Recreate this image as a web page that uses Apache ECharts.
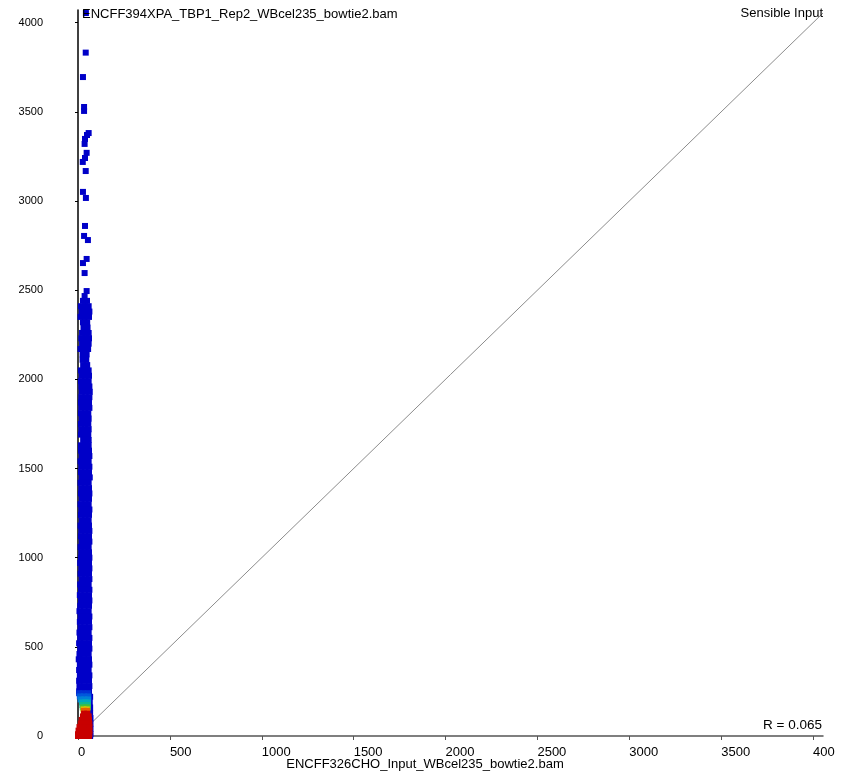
<!DOCTYPE html>
<html><head><meta charset="utf-8">
<script src="https://cdn.jsdelivr.net/npm/echarts@6/dist/echarts.min.js"></script>
<style>html,body{margin:0;padding:0;background:#fff;}#c{position:absolute;left:0;top:0;width:835px;height:773px;}</style>
</head><body><div id="c"></div><script>
// ---- data ----
const xTickValues = [0, 500, 1000, 1500, 2000, 2500, 3000, 3500, 4000];
const yTickValues = [0, 500, 1000, 1500, 2000, 2500, 3000, 3500, 4000];
const xAxisMax = 4054;
const yAxisMax = 4071;
const xAxisTitle = 'ENCFF326CHO_Input_WBcel235_bowtie2.bam';
const yAxisTitle = 'ENCFF394XPA_TBP1_Rep2_WBcel235_bowtie2.bam';
const listName = 'Sensible Input';
const rText = 'R = 0.065';
const diagonal = [[0, 0], [4054, 4054]];

// sparse high points (blue)
const blueSparse = [[43,4054],[42,3832],[27,3695],[33,3527],[33,3505],[58,3381],[49,3370],[38,3348],[36,3320],
[47,3270],[38,3241],[26,3219],[42,3168],[27,3051],[43,3017],[38,2860],[33,2804],[54,2781],[47,2675],[27,2652],
[36,2596],[47,2495],[36,2467]];
// dense column (blue)
const blueDense = [
[27,2440],[49,2440],[16,2410],[38,2410],[58,2410],[20,2380],[42,2380],[62,2380],[14,2350],[36,2350],[60,2350],
[27,2320],[50,2320],[30,2290],[52,2290],[22,2260],[45,2260],[58,2260],[18,2230],[40,2230],[60,2230],
[22,2200],[45,2200],[58,2200],[14,2170],[38,2170],[55,2170],[25,2140],[47,2140],[25,2110],[45,2110],
[28,2080],[50,2080],[16,2050],[38,2050],[58,2050],[20,2020],[42,2020],[60,2020],[16,1990],[38,1990],[58,1990],
[18,1960],[40,1960],[62,1960],[20,1930],[42,1930],[64,1930],[18,1900],[40,1900],[62,1900],[16,1870],[38,1870],[60,1870],
[18,1840],[40,1840],[62,1840],[16,1810],[38,1810],[56,1810],[20,1780],[40,1780],[58,1780],[16,1750],[38,1750],[56,1750],
[18,1720],[40,1720],[58,1720],[16,1690],[38,1690],[56,1690],[28,1660],[45,1660],[58,1660],[16,1630],[38,1630],[58,1630],
[16,1600],[38,1600],[60,1600],[20,1570],[42,1570],[62,1570],[14,1540],[36,1540],[58,1540],[18,1510],[40,1510],[62,1510],
[16,1480],[38,1480],[60,1480],[20,1450],[42,1450],[64,1450],[14,1420],[36,1420],[58,1420],[18,1390],[40,1390],[60,1390],
[16,1360],[38,1360],[62,1360],[20,1330],[42,1330],[60,1330],[14,1300],[36,1300],[58,1300],[18,1270],[40,1270],[62,1270],
[16,1240],[38,1240],[60,1240],[20,1210],[42,1210],[58,1210],[14,1180],[36,1180],[60,1180],[18,1150],[40,1150],[62,1150],
[16,1120],[38,1120],[60,1120],[20,1090],[42,1090],[62,1090],[14,1060],[36,1060],[58,1060],[18,1030],[40,1030],[60,1030],
[16,1000],[38,1000],[62,1000],[12,970],[36,970],[60,970],[18,940],[40,940],[62,940],[14,910],[38,910],[60,910],
[20,880],[42,880],[62,880],[12,850],[36,850],[58,850],[16,820],[38,820],[62,820],[10,790],[34,790],[60,790],
[16,760],[40,760],[62,760],[12,730],[36,730],[60,730],[8,700],[32,700],[58,700],[14,670],[38,670],[62,670],
[10,640],[34,640],[60,640],[14,610],[38,610],[62,610],[8,580],[32,580],[58,580],[12,550],[36,550],[62,550],
[6,520],[30,520],[60,520],[12,490],[36,490],[62,490],[8,460],[32,460],[58,460],[4,430],[28,430],[60,430],
[10,400],[34,400],[62,400],[6,370],[30,370],[58,370],[10,340],[34,340],[62,340],[6,310],[30,310],[60,310],
[8,280],[34,280],[62,280],[6,250],[30,250],[60,250],
[66,220],[64,190],[66,160],[66,130],[68,100],[68,70],[68,40],[68,10],[66,0]];
// density gradient near the origin
const grad1 = [[6,240],[28,240],[55,240]];
const grad2 = [[10,222],[32,222],[56,222]];
const grad3 = [[14,205],[35,205],[55,205]];
const grad4 = [[22,188],[40,188],[54,188]];
const grad5 = [[24,173],[40,173],[54,173]];
const grad6 = [[26,160],[42,160],[54,160]];
const grad7 = [[30,149],[48,149]];
const grad8 = [[32,141],[50,141]];
const redCore = [[33,125],[50,125],[27,110],[45,110],[58,110],[20,90],[40,90],[60,90],
[15,70],[35,70],[55,70],[62,70],[8,50],[30,50],[50,50],[62,50],[3,30],[22,30],[45,30],[62,30],
[0,10],[20,10],[40,10],[62,10],[0,0],[20,0],[40,0],[60,0]];

// ---- chart ----
const chart = echarts.init(document.getElementById('c'), null, {renderer: 'canvas'});
const FONT = 'Liberation Sans';
function sc(data, color, z) {
  return {type: 'scatter', data: data, symbol: 'rect', symbolSize: 6, clip: false, silent: true,
    itemStyle: {color: color, opacity: 1}, z: z, emphasis: {disabled: true}};
}
const plain = v => String(v);
chart.setOption({
  animation: false,
  backgroundColor: '#fff',
  grid: {left: 78, top: 10, width: 745, height: 726, containLabel: false, outerBoundsMode: 'none'},
  xAxis: {type: 'value', min: 0, max: xAxisMax, interval: 500,
    splitLine: {show: false},
    axisLine: {show: true, lineStyle: {color: '#555', width: 1.5}},
    axisTick: {show: true, length: 4, lineStyle: {color: '#555'}, customValues: xTickValues},
    axisLabel: {align: 'left', margin: 10, color: '#000', fontFamily: FONT, fontSize: 13, customValues: xTickValues, formatter: plain, hideOverlap: false}},
  yAxis: {type: 'value', min: 0, max: yAxisMax, interval: 500,
    splitLine: {show: false},
    axisLine: {show: true, lineStyle: {color: '#000', width: 1.5}},
    axisTick: {show: true, length: 3, lineStyle: {color: '#000'}, customValues: yTickValues},
    axisLabel: {margin: 35, color: '#000', fontFamily: FONT, fontSize: 11, customValues: yTickValues, formatter: plain}},
  series: [
    {type: 'line', data: diagonal, symbol: 'none', silent: true, z: 1,
      lineStyle: {color: '#8c8c8c', width: 1}},
    sc(blueSparse, '#0000c8', 2),
    sc(blueDense, '#0000c8', 2),
    sc(grad1, '#0030d4', 3),
    sc(grad2, '#0058dc', 3),
    sc(grad3, '#0080d8', 3),
    sc(grad4, '#00a8c0', 3),
    sc(grad5, '#10b890', 3),
    sc(grad6, '#40c040', 3),
    sc(grad7, '#d8c800', 3),
    sc(grad8, '#e86000', 3),
    sc(redCore, '#c80000', 4)
  ],
  graphic: [
    {type: 'text', x: 82, y: 14, z: 10, style: {text: yAxisTitle, fill: '#000', font: '13px "Liberation Sans"', align: 'left', verticalAlign: 'middle'}},
    {type: 'text', x: 823, y: 13, z: 10, style: {text: listName, fill: '#000', font: '13px "Liberation Sans"', align: 'right', verticalAlign: 'middle'}},
    {type: 'text', x: 822, y: 725, z: 10, style: {text: rText, fill: '#000', font: '13.5px "Liberation Sans"', align: 'right', verticalAlign: 'middle'}},
    {type: 'text', x: 425, y: 764, z: 10, style: {text: xAxisTitle, fill: '#000', font: '13px "Liberation Sans"', align: 'center', verticalAlign: 'middle'}}
  ]
});
</script></body></html>
